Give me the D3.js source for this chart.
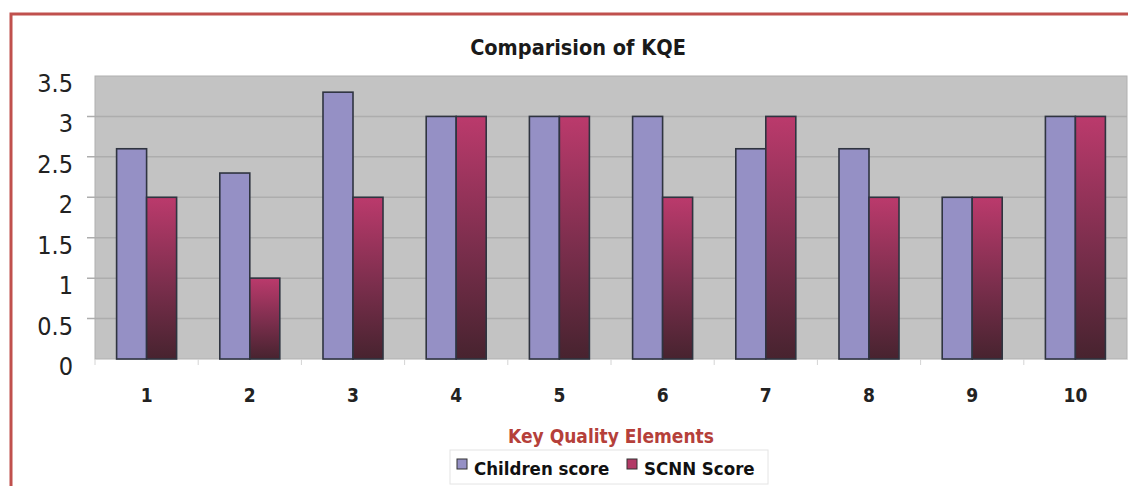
<!DOCTYPE html>
<html>
<head>
<meta charset="utf-8">
<script src="https://cdn.jsdelivr.net/npm/d3@7"></script>
<style>
  html, body { margin: 0; padding: 0; background: #fff; }
  svg { display: block; font-family: "DejaVu Sans Condensed", "DejaVu Sans", sans-serif; }
</style>
</head>
<body>
<svg id="chart" width="1128" height="486"></svg>
<script>
const categories = ["1", "2", "3", "4", "5", "6", "7", "8", "9", "10"];
const seriesNames = ["Children score", "SCNN Score"];
const childrenScore = [2.6, 2.3, 3.3, 3, 3, 3, 2.6, 2.6, 2, 3];
const scnnScore = [2, 1, 2, 3, 3, 2, 3, 2, 2, 3];
const yTicks = [0, 0.5, 1, 1.5, 2, 2.5, 3, 3.5];

const FONT = "DejaVu Sans Condensed, DejaVu Sans, sans-serif";
const svg = d3.select("#chart");
const W = 1128, H = 486;
const plot = { left: 95, right: 1127, top: 76, bottom: 359 };

// outer frame, only top and left visible in the crop
svg.append("path")
    .attr("d", `M11,${H} V14 H${W}`)
    .attr("fill", "none")
    .attr("stroke", "#c0504d")
    .attr("stroke-width", 3);

const defs = svg.append("defs");
const grad = defs.append("linearGradient")
    .attr("id", "scnnGrad")
    .attr("x1", 0).attr("y1", 0).attr("x2", 0).attr("y2", 1);
grad.append("stop").attr("offset", "0%").attr("stop-color", "#bb3a6c");
grad.append("stop").attr("offset", "55%").attr("stop-color", "#7a2e4c");
grad.append("stop").attr("offset", "100%").attr("stop-color", "#47232f");

const x = d3.scaleBand()
    .domain(categories)
    .range([plot.left, plot.right]);

const y = d3.scaleLinear()
    .domain([0, 3.5])
    .range([plot.bottom, plot.top]);

// plot background
svg.append("rect")
    .attr("x", plot.left)
    .attr("y", plot.top)
    .attr("width", plot.right - plot.left)
    .attr("height", plot.bottom - plot.top)
    .attr("fill", "#c3c3c3")
    .attr("stroke", "#b0b0b0");

// gridlines
svg.append("g")
    .selectAll("line")
    .data(yTicks.filter(d => d > 0 && d < 3.5))
    .join("line")
    .attr("x1", plot.left - 8)
    .attr("x2", plot.right)
    .attr("y1", d => y(d))
    .attr("y2", d => y(d))
    .attr("stroke", "#adadad")
    .attr("stroke-width", 1.5);

// y axis
const yAxis = svg.append("g")
    .attr("transform", `translate(${plot.left},0)`)
    .call(d3.axisLeft(y).tickValues(yTicks).tickSize(0).tickPadding(22).tickFormat(d3.format("")));
yAxis.select(".domain").remove();
yAxis.selectAll("text")
    .attr("font-size", 25)
    .attr("dy", "0.62em")
    .attr("fill", "#222")
    .attr("font-family", FONT);

// x axis
const xAxis = svg.append("g")
    .attr("transform", `translate(0,${plot.bottom})`)
    .call(d3.axisBottom(x).tickSize(0).tickPadding(30));
xAxis.select(".domain")
    .attr("stroke", "#d8d8d8");
xAxis.selectAll("text")
    .attr("font-size", 19)
    .attr("font-weight", "bold")
    .attr("fill", "#222")
    .attr("font-family", FONT);

// category boundary ticks
svg.append("g")
    .selectAll("line")
    .data(categories)
    .join("line")
    .attr("x1", d => x(d))
    .attr("x2", d => x(d))
    .attr("y1", plot.bottom)
    .attr("y2", plot.bottom + 6)
    .attr("stroke", "#d4d4d4");

// bars
const barW = 30;
const groupOffset = (x.bandwidth() - 2 * barW) / 2;
const seriesData = [
    { name: seriesNames[0], values: childrenScore, fill: "#9590c5" },
    { name: seriesNames[1], values: scnnScore, fill: "url(#scnnGrad)" }
];

seriesData.forEach((s, si) => {
    svg.append("g")
        .selectAll("rect")
        .data(s.values)
        .join("rect")
        .attr("x", (d, i) => x(categories[i]) + groupOffset + si * barW)
        .attr("y", d => y(d))
        .attr("width", barW)
        .attr("height", d => y(0) - y(d))
        .attr("fill", s.fill)
        .attr("stroke", "#2f3440")
        .attr("stroke-width", 1.6);
});

// title
svg.append("text")
    .attr("x", 578)
    .attr("y", 55)
    .attr("text-anchor", "middle")
    .attr("font-size", 21.5)
    .attr("font-weight", "bold")
    .attr("fill", "#1a1a1a")
    .text("Comparision of KQE");

// x axis title
svg.append("text")
    .attr("x", 611)
    .attr("y", 443)
    .attr("text-anchor", "middle")
    .attr("font-size", 19)
    .attr("font-weight", "bold")
    .attr("fill", "#b5403a")
    .text("Key Quality Elements");

// legend
const legend = svg.append("g");
legend.append("rect")
    .attr("x", 450)
    .attr("y", 450)
    .attr("width", 318)
    .attr("height", 34)
    .attr("fill", "#fff")
    .attr("stroke", "#e4e4e4");

const legendX = [457, 627];
seriesData.forEach((s, i) => {
    legend.append("rect")
        .attr("x", legendX[i])
        .attr("y", 459)
        .attr("width", 10)
        .attr("height", 10)
        .attr("fill", i === 0 ? "#9590c5" : "#b23a66")
        .attr("stroke", "#333");
    legend.append("text")
        .attr("x", legendX[i] + 17)
        .attr("y", 475)
        .attr("font-size", 18.5)
        .attr("font-weight", "bold")
        .attr("fill", "#111")
        .text(s.name);
});
</script>
</body>
</html>
